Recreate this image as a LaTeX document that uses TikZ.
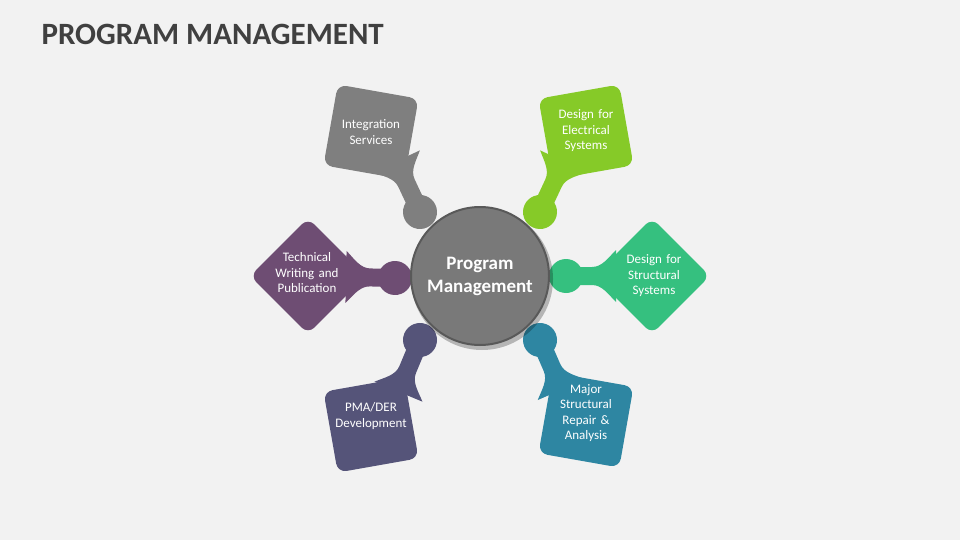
\documentclass[tikz,border=0pt]{standalone}
\usepackage{fontspec}
\setmainfont{Carlito}
\definecolor{bg}{HTML}{F2F2F2}
\definecolor{cgray}{HTML}{7F7F7F}
\definecolor{cgreen}{HTML}{86CA28}
\definecolor{cteal}{HTML}{35C07F}
\definecolor{cpurple}{HTML}{6E4D73}
\definecolor{cindigo}{HTML}{555479}
\definecolor{cblue}{HTML}{2E86A2}
\definecolor{ctitle}{HTML}{404040}
\tikzset{
  sq/.style={draw=none,rounded corners=9pt,minimum size=82pt,inner sep=0pt},
  lbl/.style={text=white,font=\fontsize{13}{15.5}\selectfont,align=center,text width=80pt},
}
\newcommand\petal[9]{%
  \pgfmathsetmacro\ang{atan2(-(#5-#3),#4-#2)}%
  \pgfmathsetmacro\len{veclen(#4-#2,#5-#3)}%
  \begin{scope}[shift={(#2,-#3)},rotate=\ang]
    \fill[#1] (0,0) circle (17);
    \fill[#1] (8,-9) -- (\len-20,-9) .. controls (\len-10,-9) and (\len-4,-18) .. (\len+4,-26)
      -- (\len+4,26) .. controls (\len-4,18) and (\len-10,9) .. (\len-20,9) -- (8,9) -- cycle;
  \end{scope}
  \node[sq,fill=#1,rotate=#8] (#9s) at (#6,-#7) {};
}
\begin{document}
\begin{tikzpicture}[x=1pt,y=1pt]
\fill[bg] (0,0) rectangle (960,-540);
\useasboundingbox (0,0) rectangle (960,-540);
\node[anchor=west,text=ctitle,font=\fontsize{31}{36}\bfseries\selectfont] (title) at (38,-34) {PROGRAM MANAGEMENT};
% shadows
\begin{scope}[opacity=0.25]
\end{scope}
\petal{cgray}{420}{212}{398}{165}{371}{132}{-10}{p1}
\petal{cgreen}{540}{212}{562}{165}{586}{132}{10}{p2}
\petal{cteal}{566}{276}{612}{276}{652}{276}{45}{p3}
\petal{cpurple}{395}{278}{350}{277}{308}{276}{45}{p4}
\petal{cindigo}{420}{340}{400}{388}{371}{425}{10}{p5}
\petal{cblue}{540}{340}{560}{386}{586}{420}{-10}{p6}
\node[lbl] (t1) at (371,-132) {Integration\\Services};
\node[lbl] (t2) at (586,-131) {Design for\\Electrical\\Systems};
\node[lbl] (t3) at (654,-276) {Design for\\Structural\\Systems};
\node[lbl] (t4) at (307,-273) {Technical\\Writing and\\Publication};
\node[lbl] (t5) at (371,-416) {PMA/DER\\Development};
\node[lbl] (t6) at (586,-413) {Major\\Structural\\Repair \&\\Analysis};
\fill[black,opacity=0.25] (482,-279) circle (71);
\node[circle,fill=cgray!95!black,draw=black!65,line width=2pt,minimum size=138pt,text=white,
  font=\fontsize{19}{23}\bfseries\selectfont,align=center] (c) at (480,-276) {Program\\Management};
\end{tikzpicture}
\end{document}
